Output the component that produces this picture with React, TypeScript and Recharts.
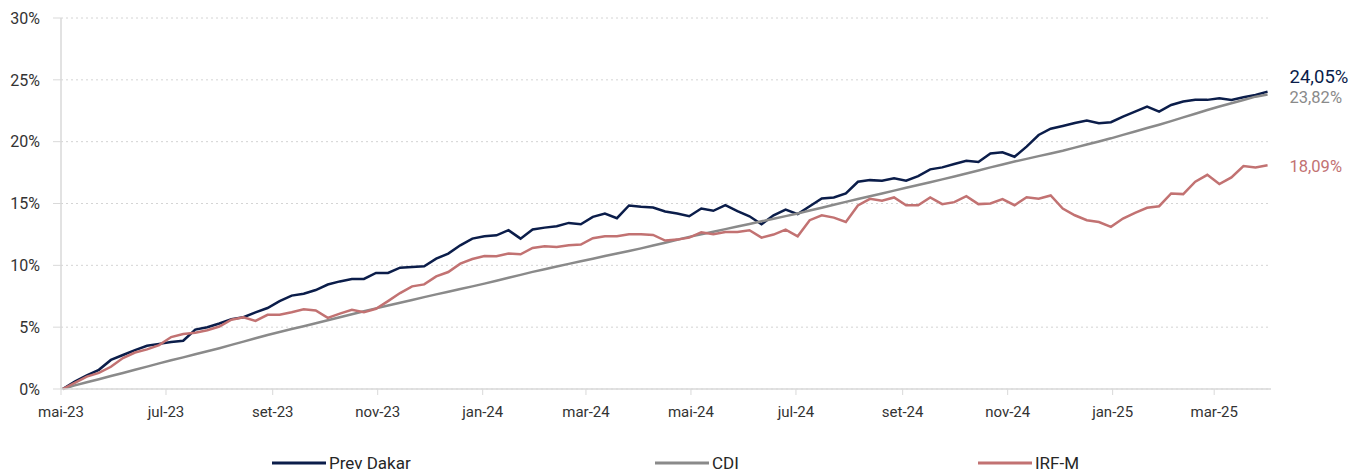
import { LineChart, Line, XAxis, YAxis, CartesianGrid, Legend, LabelList } from 'recharts';

// weekly closes, cumulative return in %
const dates = [
  '2023-05-02', '2023-05-09', '2023-05-16', '2023-05-23', '2023-05-30', '2023-06-06', '2023-06-13', '2023-06-20', '2023-06-27',
  '2023-07-04', '2023-07-11', '2023-07-18', '2023-07-25', '2023-08-01', '2023-08-08', '2023-08-15', '2023-08-22', '2023-08-29',
  '2023-09-05', '2023-09-12', '2023-09-19', '2023-09-26', '2023-10-03', '2023-10-10', '2023-10-17', '2023-10-24', '2023-10-31',
  '2023-11-07', '2023-11-14', '2023-11-21', '2023-11-28', '2023-12-05', '2023-12-12', '2023-12-19', '2023-12-26',
  '2024-01-02', '2024-01-09', '2024-01-16', '2024-01-23', '2024-01-30', '2024-02-06', '2024-02-13', '2024-02-20', '2024-02-27',
  '2024-03-05', '2024-03-12', '2024-03-19', '2024-03-26', '2024-04-02', '2024-04-09', '2024-04-16', '2024-04-23', '2024-04-30',
  '2024-05-07', '2024-05-14', '2024-05-21', '2024-05-28', '2024-06-04', '2024-06-11', '2024-06-18', '2024-06-25',
  '2024-07-02', '2024-07-09', '2024-07-16', '2024-07-23', '2024-07-30', '2024-08-06', '2024-08-13', '2024-08-20', '2024-08-27',
  '2024-09-03', '2024-09-10', '2024-09-17', '2024-09-24', '2024-10-01', '2024-10-08', '2024-10-15', '2024-10-22', '2024-10-29',
  '2024-11-05', '2024-11-12', '2024-11-19', '2024-11-26', '2024-12-03', '2024-12-10', '2024-12-17', '2024-12-24', '2024-12-31',
  '2025-01-07', '2025-01-14', '2025-01-21', '2025-01-28', '2025-02-04', '2025-02-11', '2025-02-18', '2025-02-25',
  '2025-03-04', '2025-03-11', '2025-03-18', '2025-03-25', '2025-04-01',
];

const prevDakar = [
  0.0, 0.6, 1.1, 1.55, 2.35, 2.75, 3.15, 3.5, 3.65,
  3.8, 3.9, 4.8, 5.0, 5.3, 5.65, 5.8, 6.2, 6.55,
  7.1, 7.55, 7.7, 8.0, 8.45, 8.7, 8.9, 8.9, 9.38,
  9.38, 9.81, 9.86, 9.92, 10.54, 10.95, 11.62, 12.16,
  12.35, 12.43, 12.84, 12.16, 12.9, 13.05, 13.16, 13.43, 13.32,
  13.92, 14.19, 13.81, 14.84, 14.73, 14.68, 14.35, 14.19, 13.97,
  14.59, 14.41, 14.86, 14.38, 13.97, 13.32, 14.05, 14.51,
  14.14, 14.78, 15.41, 15.49, 15.81, 16.76, 16.89, 16.84, 17.03,
  16.84, 17.22, 17.76, 17.92, 18.19, 18.45, 18.35, 19.05, 19.14,
  18.78, 19.6, 20.54, 21.05, 21.27, 21.51, 21.7, 21.49, 21.57,
  22.03, 22.43, 22.84, 22.43, 22.97, 23.24, 23.38, 23.38,
  23.51, 23.38, 23.59, 23.78, 24.05,
];

const cdi = [
  0.0, 0.29, 0.54, 0.79, 1.05, 1.3, 1.56, 1.81, 2.07,
  2.32, 2.56, 2.81, 3.05, 3.3, 3.57, 3.83, 4.1, 4.37,
  4.61, 4.85, 5.08, 5.32, 5.56, 5.8, 6.04, 6.28, 6.52,
  6.75, 6.98, 7.2, 7.43, 7.65, 7.87, 8.09, 8.3,
  8.52, 8.76, 9.0, 9.23, 9.47, 9.69, 9.9, 10.12, 10.33,
  10.54, 10.75, 10.95, 11.16, 11.37, 11.6, 11.83, 12.07, 12.3,
  12.51, 12.72, 12.93, 13.14, 13.35, 13.56, 13.77, 13.98,
  14.19, 14.43, 14.66, 14.9, 15.13, 15.36, 15.59, 15.81, 16.04,
  16.27, 16.49, 16.72, 16.95, 17.18, 17.43, 17.67, 17.92, 18.16,
  18.39, 18.61, 18.83, 19.05, 19.27, 19.52, 19.77, 20.02, 20.27,
  20.55, 20.82, 21.1, 21.37, 21.66, 21.96, 22.26, 22.56,
  22.84, 23.11, 23.37, 23.64, 23.82,
];

const irfm = [
  0.0, 0.5, 1.0, 1.3, 1.8, 2.5, 2.95, 3.2, 3.55,
  4.2, 4.45, 4.55, 4.75, 5.05, 5.6, 5.8, 5.5, 6.0,
  6.0, 6.2, 6.45, 6.35, 5.75, 6.1, 6.4, 6.2, 6.49,
  7.11, 7.76, 8.3, 8.46, 9.11, 9.46, 10.14, 10.51,
  10.76, 10.73, 10.95, 10.89, 11.41, 11.54, 11.49, 11.62, 11.68,
  12.19, 12.35, 12.35, 12.51, 12.51, 12.46, 12.0, 12.08, 12.24,
  12.68, 12.51, 12.7, 12.7, 12.84, 12.24, 12.49, 12.89,
  12.35, 13.65, 14.05, 13.86, 13.51, 14.84, 15.38, 15.22, 15.49,
  14.86, 14.86, 15.49, 14.95, 15.11, 15.59, 14.95, 15.0, 15.35,
  14.86, 15.51, 15.38, 15.65, 14.59, 14.05, 13.65, 13.5, 13.11,
  13.78, 14.24, 14.65, 14.78, 15.81, 15.76, 16.76, 17.32,
  16.57, 17.11, 18.03, 17.92, 18.09,
];

const tickDates = [
  '2023-05-01', '2023-07-01', '2023-09-01', '2023-11-01', '2024-01-01', '2024-03-01',
  '2024-05-01', '2024-07-01', '2024-09-01', '2024-11-01', '2025-01-01', '2025-03-01',
];
const tickLabels = ['mai-23', 'jul-23', 'set-23', 'nov-23', 'jan-24', 'mar-24', 'mai-24', 'jul-24', 'set-24', 'nov-24', 'jan-25', 'mar-25'];
const yTicks = [0, 5, 10, 15, 20, 25, 30];

const axisStart = '2023-05-01';
const axisEnd = '2025-04-03';

const FONT = 'Roboto, "Noto Sans", sans-serif';

const toTime = (d: string) => Date.parse(d + 'T00:00:00Z');

const data = dates.map((d, i) => ({
  t: toTime(d),
  prevDakar: prevDakar[i],
  cdi: cdi[i],
  irfm: irfm[i],
}));

const tickTimes = tickDates.map(toTime);
const lastIndex = data.length - 1;

const series = [
  { key: 'prevDakar', name: 'Prev Dakar', color: '#0b1d4a', labelSize: 18.5, labelDy: -15 },
  { key: 'cdi', name: 'CDI', color: '#8a8a8a', labelSize: 16.5, labelDy: 3 },
  { key: 'irfm', name: 'IRF-M', color: '#c27272', labelSize: 16.5, labelDy: 1.5 },
];

// legend items sit at fixed spots, like the original export
const legendX = [272, 655, 978];

const fmtPct = (v: number) => `${v.toFixed(2).replace('.', ',')}%`;

function EndLabel(color: string, size: number, dy: number) {
  // eslint-disable-next-line @typescript-eslint/no-explicit-any
  return (props: any) => {
    const { x, y, value, index } = props;
    if (index !== lastIndex) return null;
    return (
      <text
        x={Number(x) + 22}
        y={Number(y) + dy}
        fill={color}
        fontSize={size}
        fontFamily={FONT}
        dominantBaseline="central"
      >
        {fmtPct(Number(value))}
      </text>
    );
  };
}

function LegendContent() {
  return (
    <svg width={1357} height={26}>
      {series.map((s, i) => (
        <g key={s.key}>
          <line x1={legendX[i]} x2={legendX[i] + 54} y1={13} y2={13} stroke={s.color} strokeWidth={3} />
          <text
            x={legendX[i] + 57}
            y={13}
            fill="#262626"
            fontSize={17}
            fontFamily={FONT}
            dominantBaseline="central"
          >
            {s.name}
          </text>
        </g>
      ))}
    </svg>
  );
}

export default function App() {
  return (
    <div style={{ width: 1357, height: 473, background: '#fff' }}>
      <style>{'body{margin:0}'}</style>
      <LineChart width={1357} height={473} data={data} margin={{ top: 18, right: 86, bottom: 54, left: 0 }}>
        <CartesianGrid vertical={false} stroke="#d4d4d4" strokeDasharray="2 3" />
        <XAxis
          dataKey="t"
          type="number"
          scale="time"
          domain={[toTime(axisStart), toTime(axisEnd)]}
          allowDataOverflow
          ticks={tickTimes}
          tickFormatter={(v: number) => tickLabels[tickTimes.indexOf(v)] ?? ''}
          height={30}
          tickSize={6}
          tickMargin={11}
          axisLine={{ stroke: '#d9d9d9', strokeWidth: 1.5 }}
          tickLine={{ stroke: '#d9d9d9' }}
          tick={{ fill: '#333', fontSize: 15, fontFamily: FONT }}
          interval={0}
        />
        <YAxis
          domain={[0, 30]}
          ticks={yTicks}
          tickFormatter={(v: number) => `${v}%`}
          width={61}
          tickSize={8}
          tickMargin={13}
          axisLine={{ stroke: '#d9d9d9', strokeWidth: 1.5 }}
          tickLine={{ stroke: '#d9d9d9' }}
          tick={{ fill: '#333', fontSize: 16, fontFamily: FONT }}
        />
        <Legend
          layout="horizontal"
          verticalAlign="middle"
          align="center"
          wrapperStyle={{ top: 450, left: 0, width: 1357, height: 26 }}
          content={LegendContent}
        />
        {series.map(s => (
          <Line
            key={s.key}
            dataKey={s.key}
            name={s.name}
            type="linear"
            stroke={s.color}
            strokeWidth={2.5}
            dot={false}
            activeDot={false}
            isAnimationActive={false}
          >
            <LabelList dataKey={s.key} content={EndLabel(s.color, s.labelSize, s.labelDy)} />
          </Line>
        ))}
      </LineChart>
    </div>
  );
}
